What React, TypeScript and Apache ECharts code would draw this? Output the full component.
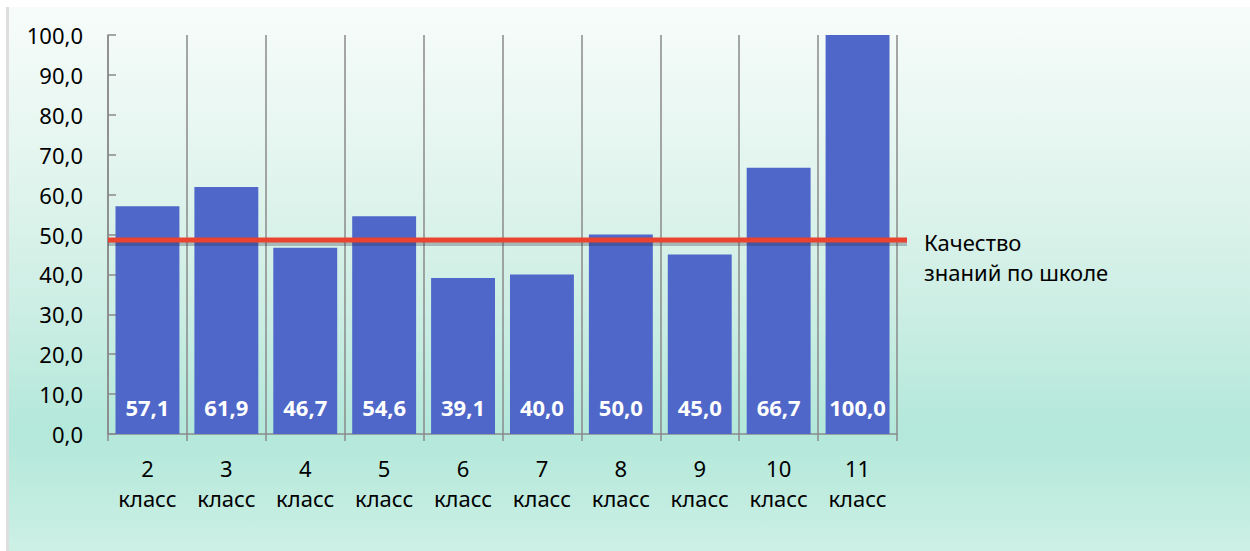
import React, { useEffect, useRef } from "react";
import * as echarts from "echarts";

const categories = ["2\nкласс", "3\nкласс", "4\nкласс", "5\nкласс", "6\nкласс", "7\nкласс", "8\nкласс", "9\nкласс", "10\nкласс", "11\nкласс"];
const values = [57.1, 61.9, 46.7, 54.6, 39.1, 40.0, 50.0, 45.0, 66.7, 100.0];
const schoolQuality = 48.6;
const schoolLabel = "Качество\nзнаний по школе";

const FONT = "'Noto Sans', 'Open Sans', sans-serif";
const fmt = (v: number) => v.toFixed(1).replace(".", ",");

export default function App() {
  const ref = useRef<HTMLDivElement>(null);
  useEffect(() => {
    if (!ref.current) return;
    const chart = echarts.init(ref.current, undefined, { renderer: "svg" });
    const axisColor = "#8a8a8a";
    chart.setOption({
      animation: false,
      backgroundColor: "transparent",
      textStyle: { fontFamily: FONT },
      grid: [
        { left: 108, right: 353, top: 35, bottom: 117 },
        { left: 108, right: 343, top: 35, bottom: 117 },
        { left: 108, right: 343, top: 38, bottom: 114 },
      ],
      xAxis: [
        {
          type: "category",
          gridIndex: 0,
          data: categories,
          boundaryGap: true,
          axisLine: { show: true, lineStyle: { color: axisColor, width: 1.5 } },
          axisTick: { show: true, length: 7, lineStyle: { color: axisColor, width: 1.5 } },
          splitLine: { show: true, lineStyle: { color: axisColor, width: 1.5 } },
          axisLabel: { color: "#000", fontSize: 22, lineHeight: 30, margin: 19, fontFamily: FONT, interval: 0 },
        },
        { type: "value", gridIndex: 1, min: 0, max: 1, show: false },
        { type: "value", gridIndex: 2, min: 0, max: 1, show: false },
      ],
      yAxis: [
        {
          type: "value",
          gridIndex: 0,
          min: 0,
          max: 100,
          interval: 10,
          axisLine: { show: true, lineStyle: { color: axisColor, width: 1.5 } },
          axisTick: { show: true, inside: true, length: 8, lineStyle: { color: axisColor, width: 1.5 } },
          splitLine: { show: false },
          axisLabel: { color: "#000", fontSize: 22, margin: 25, fontFamily: FONT, formatter: (v: number) => fmt(v) },
        },
        { type: "value", gridIndex: 1, min: 0, max: 100, show: false },
        { type: "value", gridIndex: 2, min: 0, max: 100, show: false },
      ],
      series: [
        {
          type: "bar",
          xAxisIndex: 0,
          yAxisIndex: 0,
          data: values,
          barCategoryGap: "19%",
          itemStyle: { color: "#4f67c9" },
          label: {
            show: true,
            position: "insideBottom",
            distance: 16,
            color: "#fff",
            fontWeight: "bold",
            fontSize: 22,
            fontFamily: FONT,
            formatter: (p: any) => fmt(p.value),
          },
          z: 2,
        },
        {
          type: "line",
          name: "shadow",
          xAxisIndex: 2,
          yAxisIndex: 2,
          data: [[0, schoolQuality], [1, schoolQuality]],
          symbol: "none",
          silent: true,
          lineStyle: { color: "rgba(40,40,60,0.28)", width: 6 },
          z: 4,
        },
        {
          type: "line",
          name: "Качество знаний по школе",
          xAxisIndex: 1,
          yAxisIndex: 1,
          data: [[0, schoolQuality], [1, schoolQuality]],
          symbol: "none",
          lineStyle: { color: "#ea4330", width: 5 },
          z: 5,
        },
      ],
      graphic: [
        {
          type: "text",
          left: 924,
          top: 227,
          style: {
            text: schoolLabel,
            fill: "#000",
            font: `22px ${FONT}`,
            lineHeight: 30,
          },
        },
      ],
    });
    return () => chart.dispose();
  }, []);

  return (
    <div style={{ position: "fixed", left: 0, top: 0, width: 1250, height: 551, background: "#fff" }}>
      <div
        style={{
          position: "absolute",
          left: 6,
          top: 7,
          right: 0,
          bottom: 0,
          borderLeft: "3px solid #dedede",
          background:
            "linear-gradient(180deg, #f7fcfa 0%, #e6f6f0 25%, #cdeee4 55%, #b3e8da 78%, #c2ede0 92%, #cdf0e5 100%)",
        }}
      />
      <div ref={ref} style={{ position: "absolute", left: 0, top: 0, width: 1250, height: 551 }} />
    </div>
  );
}
